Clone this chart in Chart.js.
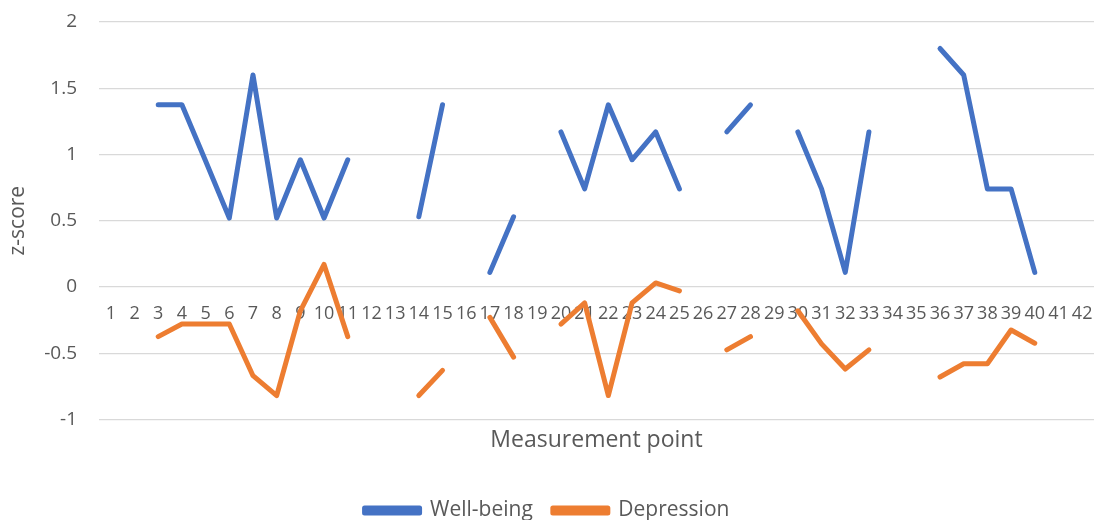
<!DOCTYPE html>
<html>
<head>
<meta charset="utf-8">
<script src="https://cdn.jsdelivr.net/npm/chart.js@4.4.1/dist/chart.umd.min.js"></script>
<style>
  html, body { margin: 0; padding: 0; overflow: hidden; background: #fff; }
  #wrap { width: 1097px; height: 531px; }
</style>
</head>
<body>
<div id="wrap"><canvas id="zChart"></canvas></div>
<script>
const measurementPoints = ['1','2','3','4','5','6','7','8','9','10','11','12','13','14',
    '15','16','17','18','19','20','21','22','23','24','25','26','27','28',
    '29','30','31','32','33','34','35','36','37','38','39','40','41','42'];

// null = no measurement, leaves a gap in the line
const wellBeing = [null, null, 1.375, 1.375, 0.95, 0.52, 1.6, 0.52, 0.96, 0.52, 0.96, null, null, 0.53,
    1.375, null, 0.11, 0.53, null, 1.17, 0.74, 1.375, 0.96, 1.17, 0.74, null, 1.17, 1.375,
    null, 1.17, 0.74, 0.11, 1.17, null, null, 1.8, 1.6, 0.74, 0.74, 0.11, null, null];

const depression = [null, null, -0.375, -0.28, -0.28, -0.28, -0.67, -0.82, -0.18, 0.17, -0.375, null, null, -0.82,
    -0.63, null, -0.23, -0.53, null, -0.28, -0.12, -0.82, -0.12, 0.03, -0.03, null, -0.475, -0.375,
    null, -0.18, -0.43, -0.62, -0.475, null, null, -0.68, -0.58, -0.58, -0.325, -0.425, null, null];

const textColour = '#595959';
const fontFamily = '"Open Sans", "Liberation Sans", sans-serif';

// no label overhang padding on the category axes
const flatAxis = scale => {
    scale.height = 0;
    scale.paddingLeft = 0;
    scale.paddingRight = 0;
};

const ctx = document.getElementById('zChart').getContext('2d');
new Chart(ctx, {
    type: 'line',
    data: {
        labels: measurementPoints,
        datasets: [
            {
                label: 'Well-being',
                data: wellBeing,
                borderColor: '#4472C4',
                backgroundColor: '#4472C4',
                borderWidth: 5,
                borderCapStyle: 'round',
                borderJoinStyle: 'round',
                pointRadius: 0,
                spanGaps: false
            },
            {
                label: 'Depression',
                data: depression,
                borderColor: '#ED7D31',
                backgroundColor: '#ED7D31',
                borderWidth: 5,
                borderCapStyle: 'round',
                borderJoinStyle: 'round',
                pointRadius: 0,
                spanGaps: false
            }
        ]
    },
    options: {
        responsive: true,
        maintainAspectRatio: false,
        animation: false,
        layout: { padding: { top: 22, right: 3, left: 0, bottom: 0 } },
        scales: {
            // category labels sit on the zero line
            x: {
                type: 'category',
                offset: true,
                position: { y: 0 },
                grid: { display: false, drawTicks: false },
                border: { display: false },
                ticks: {
                    autoSkip: false,
                    maxRotation: 0,
                    padding: 16,
                    color: textColour,
                    font: { family: fontFamily, size: 18 }
                },
                afterFit: flatAxis
            },
            // holds only the axis title at the bottom
            x2: {
                type: 'category',
                labels: measurementPoints,
                offset: true,
                position: 'bottom',
                grid: { display: false, drawTicks: false },
                border: { display: false },
                ticks: { display: false },
                title: {
                    display: true,
                    text: 'Measurement point',
                    color: textColour,
                    font: { family: fontFamily, size: 23 },
                    padding: { top: 7, bottom: 26 }
                },
                afterFit: scale => {
                    scale.paddingLeft = 0;
                    scale.paddingRight = 0;
                }
            },
            y: {
                min: -1,
                max: 2,
                ticks: {
                    stepSize: 0.5,
                    padding: 22,
                    color: textColour,
                    font: { family: fontFamily, size: 19 },
                    callback: value => String(value)
                },
                grid: { color: '#D9D9D9', lineWidth: 1.3, drawTicks: false },
                border: { display: false },
                title: {
                    display: true,
                    text: 'z-score',
                    color: textColour,
                    font: { family: fontFamily, size: 21 },
                    padding: { top: 5, bottom: 0 }
                },
                afterFit: scale => {
                    scale.width = 99;
                    scale.paddingTop = 0;
                    scale.paddingBottom = 0;
                }
            }
        },
        plugins: {
            legend: {
                position: 'bottom',
                labels: {
                    boxWidth: 55,
                    boxHeight: 5,
                    padding: 20,
                    color: textColour,
                    font: { family: fontFamily, size: 21 }
                }
            },
            tooltip: { enabled: false }
        }
    }
});
</script>
</body>
</html>
